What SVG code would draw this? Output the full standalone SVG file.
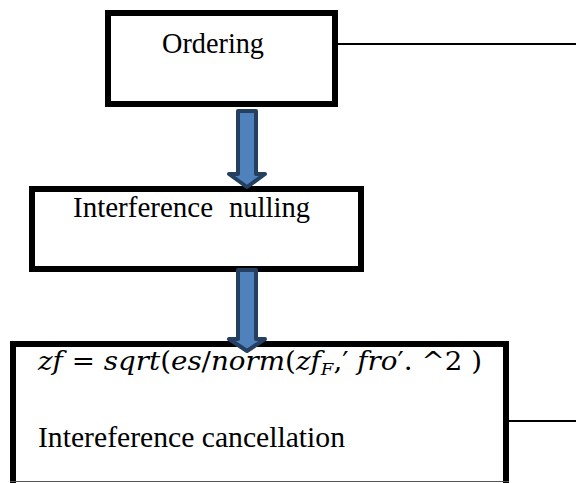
<svg xmlns="http://www.w3.org/2000/svg" width="576" height="483" viewBox="0 0 576 483">
<style>
.box{fill:#fff;stroke:#000;stroke-width:6}
.lbl{font-family:"Liberation Serif","Times New Roman",serif;font-size:30px;fill:#000}
.eq{font-family:"DejaVu Serif","Liberation Serif",serif;font-size:26px;fill:#000}
.it{font-style:italic}
.line{stroke:#000;stroke-width:2;fill:none}
.arrow{fill:#4F81BD;stroke:#243F60;stroke-width:4;stroke-linejoin:round}
</style>
<rect width="576" height="483" fill="#fff"/>
<g id="node-ordering">
<rect class="box" x="108" y="13" width="227" height="91"/>
<text class="lbl" x="162" y="53" textLength="102" lengthAdjust="spacingAndGlyphs">Ordering</text>
</g>
<g id="node-nulling">
<rect class="box" x="32" y="189" width="329" height="80"/>
<text class="lbl" x="73" y="217" textLength="140" lengthAdjust="spacingAndGlyphs">Interference</text>
<text class="lbl" x="229" y="217" textLength="81" lengthAdjust="spacingAndGlyphs">nulling</text>
</g>
<g id="node-cancellation">
<rect x="13" y="344" width="493" height="137" fill="#fff"/>
<path d="M13,483 V344 H506 V483" fill="none" stroke="#000" stroke-width="6"/>
<line x1="10" y1="481.5" x2="509" y2="481.5" stroke="#555" stroke-width="1"/>
<text class="eq" x="38" y="370" textLength="444" lengthAdjust="spacingAndGlyphs"><tspan class="it">zf</tspan> = <tspan class="it">sqrt</tspan>(<tspan class="it">es</tspan>/<tspan class="it">norm</tspan>(<tspan class="it">zf</tspan><tspan class="it" font-size="17" dy="5">F</tspan><tspan dy="-5">,′ </tspan><tspan class="it">fro</tspan>′. ^2 )</text>
<text class="lbl" x="38" y="447" textLength="307" lengthAdjust="spacingAndGlyphs">Intereference cancellation</text>
</g>
<g id="connectors">
<line class="line" x1="338" y1="44" x2="576" y2="44"/>
<line class="line" x1="509" y1="421" x2="576" y2="421"/>
<path class="arrow" d="M238,111 H256 V174 H265 L247,187 L229,174 H238 Z"/>
<path class="arrow" d="M238,270 H256 V339 H265 L247,351 L229,339 H238 Z"/>
</g>
</svg>
